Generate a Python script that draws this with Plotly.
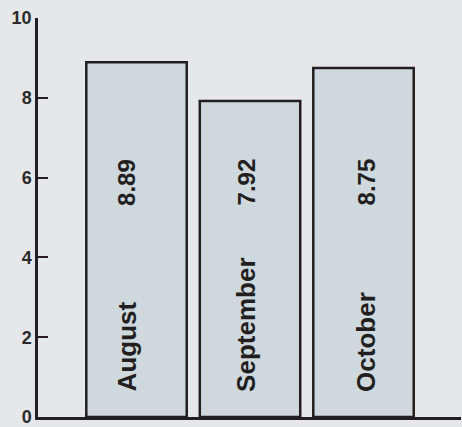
import plotly.graph_objects as go

months = ["August", "September", "October"]
values = [8.89, 7.92, 8.75]
y_ticks = [0, 2, 4, 6, 8, 10]

INK = "#231f20"
BG = "#e6e7e8"
FONT = "Liberation Sans, Arial, sans-serif"

fig = go.Figure(
    go.Bar(
        x=months,
        y=values,
        width=0.885,
        marker=dict(color="#cfd8dc", line=dict(color=INK, width=2.5)),
        hoverinfo="skip",
    )
)

x_offsets = [-10, -4, 2.5]  # pixel nudges of the labels inside each bar
for m, v, dx in zip(months, values, x_offsets):
    fig.add_annotation(
        x=m, y=5.88, text=f"<b>{v:.2f}</b>", textangle=-90, showarrow=False,
        font=dict(size=24, family=FONT, color=INK), xshift=dx,
        xanchor="center", yanchor="middle",
    )
    fig.add_annotation(
        x=m, y=0.68, text=f"<b>{m}</b>", textangle=-90, showarrow=False,
        font=dict(size=26, family=FONT, color=INK), xshift=dx, yshift=-4,
        xanchor="center", yanchor="bottom",
    )

fig.update_layout(
    width=462, height=427,
    margin=dict(l=38, r=1, t=18, b=10, autoexpand=False),
    paper_bgcolor=BG,
    plot_bgcolor=BG,
    showlegend=False,
    bargap=0.1,
)
fig.update_xaxes(
    range=[-0.868, 2.859], showline=True, linecolor=INK, linewidth=2.5,
    showticklabels=False, ticks="", showgrid=False, zeroline=False,
)
fig.update_yaxes(
    range=[0, 10], tickvals=y_ticks, showline=True, linecolor=INK, linewidth=2.5,
    ticks="inside", ticklen=10, tickwidth=2, tickcolor=INK,
    showgrid=False, zeroline=False, automargin=False, ticklabeloverflow="allow",
    tickfont=dict(size=18, family=FONT, color="#2b2b2b", weight="bold"),
)

fig.write_html(
    "out.html",
    config={"displayModeBar": False},
    post_script=(
        "document.body.style.margin='0';"
        "document.body.style.background='" + BG + "';"
    ),
)
